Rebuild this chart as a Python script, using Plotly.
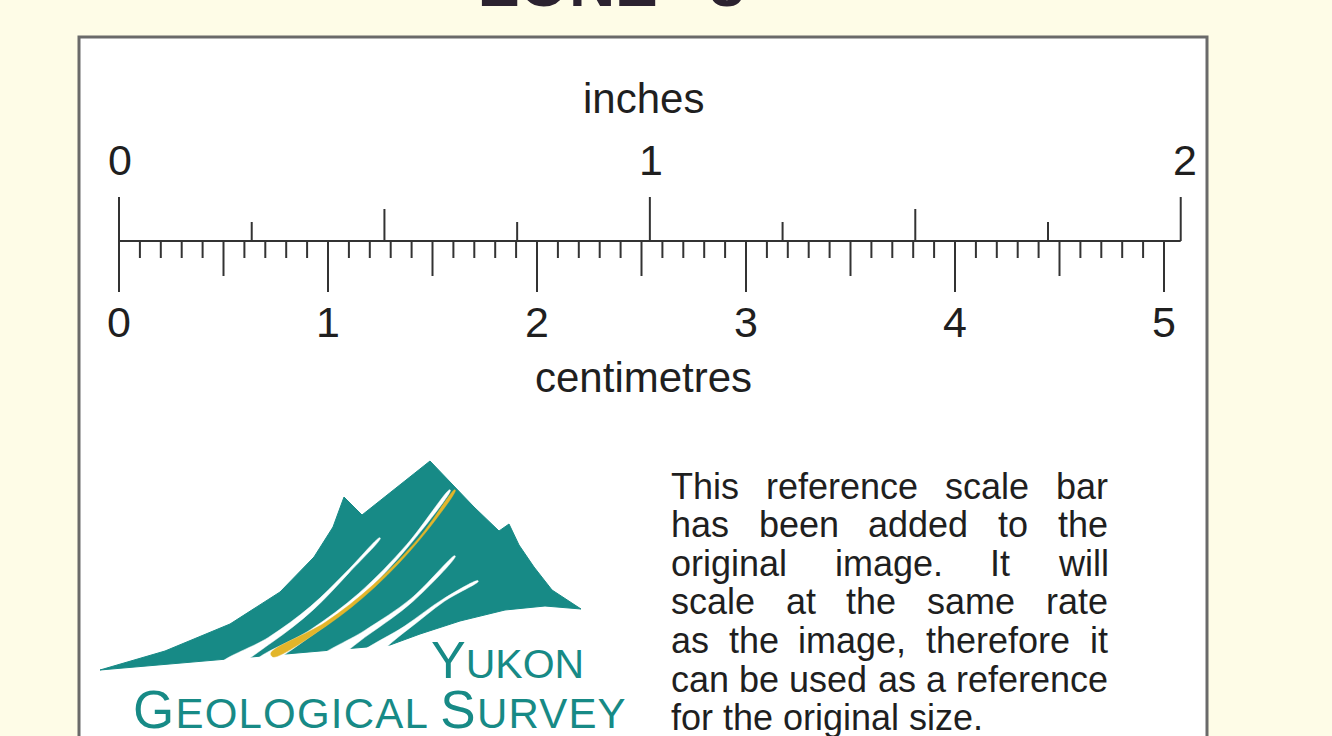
import math
import plotly.graph_objects as go

# ---------------- data ----------------
INCH_QUARTERS = [0, 0.25, 0.5, 0.75, 1.0, 1.25, 1.5, 1.75, 2.0]   # inch ticks
INCH_LABEL_VALUES = [0, 1, 2]
INCH_LABELS = ["0", "1", "2"]
CM_MM_TICKS = list(range(0, 51))                                   # millimetre ticks
CM_LABEL_VALUES = [0, 1, 2, 3, 4, 5]
CM_LABELS = ["0", "1", "2", "3", "4", "5"]
CM_PER_INCH = 2.54
UNIT_TOP = "inches"
UNIT_BOTTOM = "centimetres"
TITLE_PARTS = ["ZONE", "8"]
PARAGRAPH_LINES = [
    "This reference scale bar",
    "has been added to the",
    "original image. It will",
    "scale at the same rate",
    "as the image, therefore it",
    "can be used as a reference",
    "for the original size.",
]

# logo geometry (page pixels)
MOUNTAIN = [(100, 670), (165, 651), (230, 624), (280, 592), (314, 557), (333, 527),
            (344, 497), (362, 515), (430, 461), (452, 484), (474, 507),
            (499, 531), (509, 524), (519, 545), (534, 567), (552, 590), (581, 609),
            (545, 606), (505, 610), (460, 621), (420, 634), (390, 645), (100, 670)]
SWOOSH_WHITE = [
    ([(222, 668), (270, 640), (312, 608), (348, 572), (380, 538)], 8, 1),
    ([(258, 664), (312, 632), (360, 595), (408, 545), (450, 490)], 7, 1),
    ([(318, 664), (366, 633), (412, 600), (455, 556)], 8, 1),
    ([(362, 658), (406, 628), (444, 600), (478, 581)], 7, 1),
]
SWOOSH_GOLD = ([(272, 655), (326, 624), (374, 586), (420, 538), (455, 490)], 4.5, 1)

# ---------------- style ----------------
BG = "#fefce7"
INK = "#333333"
TEXT = "#1f1f1f"
TEAL = "#178a86"
GOLD = "#e2b52a"
FONT = "Arial, Liberation Sans, sans-serif"

PX0, PX_PER_CM = 119.0, 209.0
W, H = 1332, 736
BASE_Y = 241

fig = go.Figure()

# ---------------- ruler (x axis in centimetres) ----------------
xs, ys = [], []
xs += [0, INCH_QUARTERS[-1] * CM_PER_INCH, None]
ys += [BASE_Y, BASE_Y, None]
for q in INCH_QUARTERS:
    if abs(q - round(q)) < 1e-9:
        L = 44
    elif abs(q * 2 - round(q * 2)) < 1e-9:
        L = 32
    else:
        L = 19
    xs += [q * CM_PER_INCH, q * CM_PER_INCH, None]
    ys += [BASE_Y, BASE_Y - L, None]
for m in CM_MM_TICKS:
    if m % 10 == 0:
        L = 51
    elif m % 5 == 0:
        L = 35
    else:
        L = 17
    xs += [m / 10, m / 10, None]
    ys += [BASE_Y, BASE_Y + L, None]
fig.add_trace(go.Scatter(x=xs, y=ys, mode="lines", line=dict(color=INK, width=2),
                         hoverinfo="skip", showlegend=False, xaxis="x", yaxis="y"))

annotations = []
for v, t in zip(INCH_LABEL_VALUES, INCH_LABELS):
    annotations.append(dict(x=v * CM_PER_INCH, y=160, xref="x", yref="y", text=t,
                            showarrow=False, font=dict(family=FONT, size=43, color=TEXT),
                            xanchor="center", yanchor="middle", xshift=4 if v == 2 else 1))
for v, t in zip(CM_LABEL_VALUES, CM_LABELS):
    annotations.append(dict(x=v, y=322, xref="x", yref="y", text=t,
                            showarrow=False, font=dict(family=FONT, size=43, color=TEXT),
                            xanchor="center", yanchor="middle"))
annotations.append(dict(x=643, y=98, xref="x2", yref="y", text=UNIT_TOP, showarrow=False,
                        font=dict(family=FONT, size=42, color=TEXT), xanchor="center", yanchor="middle"))
annotations.append(dict(x=643, y=377, xref="x2", yref="y", text=UNIT_BOTTOM, showarrow=False,
                        font=dict(family=FONT, size=42, color=TEXT), xanchor="center", yanchor="middle"))

# partially visible title at top (only the lower edge of the letters shows)
TITLE_Y = 1 - 22 / H
annotations.append(dict(x=569, y=TITLE_Y, xref="x2", yref="paper", text=TITLE_PARTS[0],
                        showarrow=False, font=dict(family=FONT, size=64, color="#2b2230", weight="bold"),
                        xanchor="center", yanchor="bottom"))
annotations.append(dict(x=727, y=TITLE_Y, xref="x2", yref="paper", text=TITLE_PARTS[1],
                        showarrow=False, font=dict(family=FONT, size=64, color="#2b2230", weight="bold"),
                        xanchor="center", yanchor="bottom"))

# ---------------- justified paragraph ----------------
ARIAL_W = {' ': 278, 'a': 556, 'b': 556, 'c': 500, 'd': 556, 'e': 556, 'f': 278, 'g': 556,
           'h': 556, 'i': 222, 'j': 222, 'k': 500, 'l': 222, 'm': 833, 'n': 556, 'o': 556,
           'p': 556, 'q': 556, 'r': 333, 's': 500, 't': 278, 'u': 556, 'v': 500, 'w': 722,
           'x': 500, 'y': 500, 'z': 500, 'T': 611, 'I': 278, ',': 278, '.': 278}
PFS = 36
LEFT, RIGHT = 670, 1107


def tw(s):
    return sum(ARIAL_W.get(c, 556) for c in s) / 1000 * PFS


for i, line in enumerate(PARAGRAPH_LINES):
    yc = 486 + 38.6 * i
    words = line.split(" ")
    last = i == len(PARAGRAPH_LINES) - 1
    if last or len(words) == 1:
        gap = tw(" ")
    else:
        gap = (RIGHT - LEFT - sum(tw(w) for w in words)) / (len(words) - 1)
    x = LEFT
    for w in words:
        annotations.append(dict(x=x, y=yc, xref="x2", yref="y", text=w, showarrow=False,
                                font=dict(family=FONT, size=PFS, color=TEXT),
                                xanchor="left", yanchor="middle", borderpad=0))
        x += tw(w) + gap

# ---------------- logo ----------------


def crescent(pts, w0, w1):
    n = len(pts)
    cum = [0.0]
    for k in range(1, n):
        cum.append(cum[-1] + math.dist(pts[k - 1], pts[k]))
    left, right = [], []
    for k, (x, y) in enumerate(pts):
        if k == 0:
            dx, dy = pts[1][0] - x, pts[1][1] - y
        elif k == n - 1:
            dx, dy = x - pts[k - 1][0], y - pts[k - 1][1]
        else:
            dx, dy = pts[k + 1][0] - pts[k - 1][0], pts[k + 1][1] - pts[k - 1][1]
        d = math.hypot(dx, dy)
        nx, ny = -dy / d, dx / d
        wd = w0 + (w1 - w0) * cum[k] / cum[-1]
        left.append((x + nx * wd / 2, y + ny * wd / 2))
        right.append((x - nx * wd / 2, y - ny * wd / 2))
    poly = left + right[::-1] + [left[0]]
    return [p[0] for p in poly], [p[1] for p in poly]


fig.add_trace(go.Scatter(x=[p[0] for p in MOUNTAIN], y=[p[1] for p in MOUNTAIN],
                         mode="lines", fill="toself", fillcolor=TEAL, line=dict(color=TEAL, width=1),
                         hoverinfo="skip", showlegend=False, xaxis="x2", yaxis="y"))
for pts, w0, w1 in SWOOSH_WHITE:
    cx, cy = crescent(pts, w0, w1)
    fig.add_trace(go.Scatter(x=cx, y=cy, mode="lines", fill="toself", fillcolor="white",
                             line=dict(color="white", width=0.5, shape="spline"),
                             hoverinfo="skip", showlegend=False, xaxis="x2", yaxis="y"))
cx, cy = crescent(*SWOOSH_GOLD)
fig.add_trace(go.Scatter(x=cx, y=cy, mode="lines", fill="toself", fillcolor=GOLD,
                         line=dict(color=GOLD, width=0.5, shape="spline"),
                         hoverinfo="skip", showlegend=False, xaxis="x2", yaxis="y"))

annotations.append(dict(x=586, y=660, xref="x2", yref="y",
                        text="<span style='font-size:52px'>Y</span>UKON", showarrow=False,
                        font=dict(family=FONT, size=41, color=TEAL), xanchor="right", yanchor="middle"))
annotations.append(dict(x=131, y=709, xref="x2", yref="y",
                        text="<span style='letter-spacing:1.2px'><span style='font-size:53px'>G</span>EOLOGICAL "
                             "<span style='font-size:53px'>S</span>URVEY</span>",
                        showarrow=False, font=dict(family=FONT, size=42, color=TEAL),
                        xanchor="left", yanchor="middle"))

# ---------------- layout ----------------
shapes = [dict(type="rect", xref="x2", yref="y", x0=79, x1=1207, y0=37, y1=760,
               fillcolor="white", line=dict(color="#6a6a6a", width=3), layer="below")]

fig.update_layout(
    width=W, height=H, margin=dict(l=0, r=0, t=0, b=0),
    paper_bgcolor=BG, plot_bgcolor="rgba(0,0,0,0)",
    xaxis=dict(range=[-PX0 / PX_PER_CM, (W - PX0) / PX_PER_CM], visible=False, fixedrange=True),
    xaxis2=dict(range=[0, W], overlaying="x", anchor="y", visible=False, fixedrange=True),
    yaxis=dict(range=[H, 0], visible=False, fixedrange=True),
    shapes=shapes, annotations=annotations, showlegend=False,
)

fig.write_html("out.html", config={"displayModeBar": False},
               post_script="document.body.style.margin='0';document.body.style.padding='0';"
                           "document.body.style.overflow='hidden';"
                           "document.body.style.background='" + BG + "';")
